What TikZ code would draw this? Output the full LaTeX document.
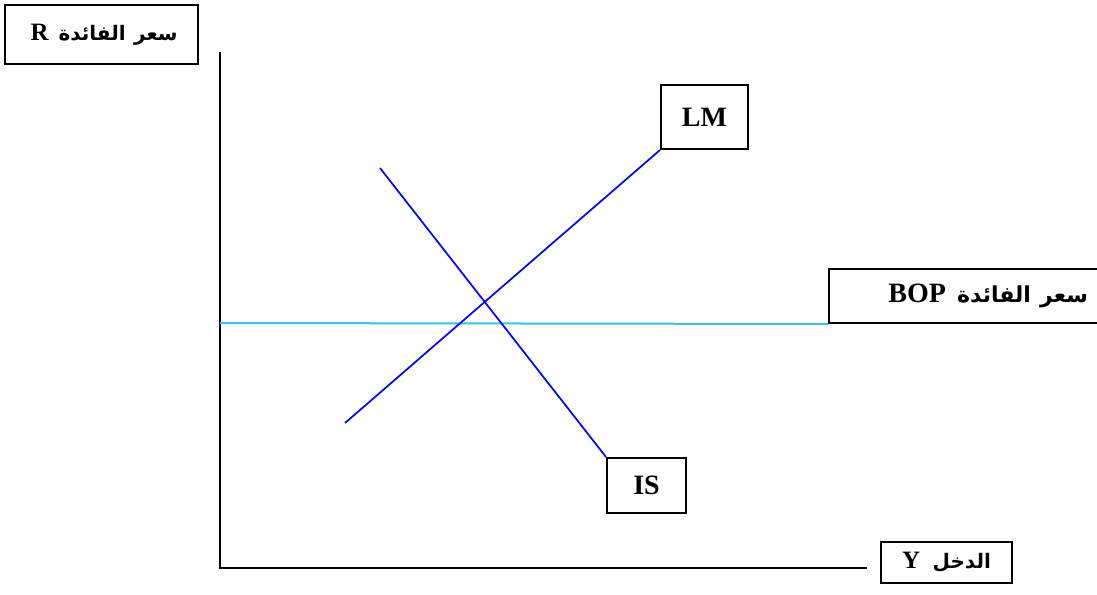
\documentclass[tikz,border=0pt]{standalone}
\usepackage{fontspec}
\setmainfont{Liberation Serif}
\newfontfamily\arabicfont[Script=Arabic]{DejaVu Sans}
\TeXXeTstate=1
\definecolor{bopcyan}{RGB}{60,190,240}

\begin{document}
\begin{tikzpicture}[x=0.5pt, y=-0.5pt,
  box/.style={draw, line width=1pt, inner sep=0pt, font=\bfseries\fontsize{14}{16}\selectfont},
  smallbox/.style={box, font=\bfseries\fontsize{12.5}{14}\selectfont},
  axis/.style={line width=0.9pt},
  curve/.style={blue, line width=0.85pt},
  bopline/.style={bopcyan, line width=1pt}]
\useasboundingbox (0,0) rectangle (1097,594);
\node[smallbox, minimum width=96.5pt, minimum height=29.5pt, text width=76pt, align=right] (rate) at (101.5,34.5)
  {R\hspace{0.4em}{\arabicfont\fontsize{10}{12}\selectfont\beginR سعر الفائدة\endR}};
\node[box, minimum width=138.5pt, minimum height=27pt, text width=120.5pt, align=right] (bop) at (967.5,296)
  {BOP\hspace{0.4em}{\arabicfont\fontsize{11}{13}\selectfont\beginR سعر الفائدة\endR}};
\node[smallbox, minimum width=65.5pt, minimum height=20.5pt] (income) at (946.5,562.5)
  {Y\hspace{0.5em}{\arabicfont\fontsize{10}{12}\selectfont\beginR الدخل\endR}};
\node[box, minimum width=43.5pt, minimum height=32pt] (lm) at (704.5,117) {LM};
\node[box, minimum width=39.5pt, minimum height=27.5pt] (is) at (646.5,485.5) {IS};
\coordinate (top) at (220,52);
\coordinate (origin) at (220,568);
\coordinate (xend) at (867,568);
\coordinate (lmlow) at (345,423);
\coordinate (istop) at (380,168);
\coordinate (bopstart) at (220,323);
\draw[axis] (top) -- (origin) -- (xend);
\draw[bopline] (bopstart) -- (bop.south west);
\draw[curve] (lmlow) -- (lm.south west);
\draw[curve] (istop) -- (is.north west);
\end{tikzpicture}
\end{document}
